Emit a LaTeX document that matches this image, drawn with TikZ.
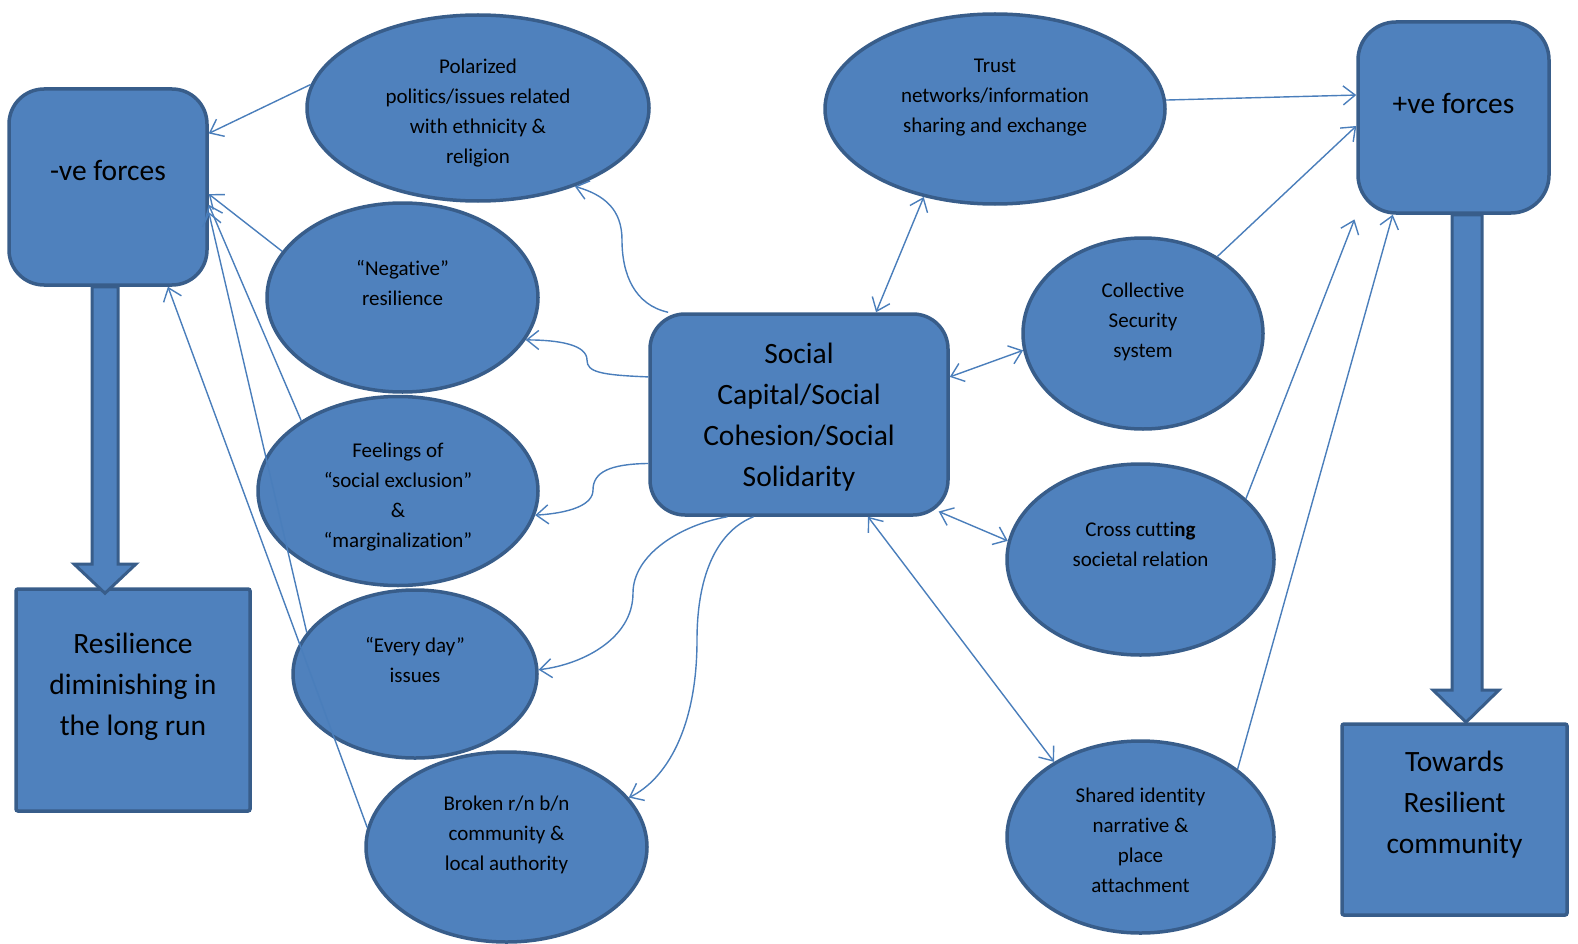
\documentclass[tikz,border=0pt]{standalone}
\usepackage{fontspec}
\setmainfont{Carlito}[Ligatures=NoCommon]
\usetikzlibrary{arrows.meta,calc,shapes.geometric}
\definecolor{shapefill}{HTML}{4F81BD}
\definecolor{shapeline}{HTML}{385D8A}
\definecolor{linkcol}{HTML}{4A7EBB}
\newcommand{\shapetext}[2]{\raisebox{#1}[\height][\depth]{\begin{tabular}{@{}c@{}}#2\end{tabular}}}

\begin{document}
\begin{tikzpicture}[x=1pt, y=-1pt,
		oval/.style={ellipse, draw=shapeline, fill=shapefill, line width=3.5pt, inner sep=0pt, font=\fontsize{21}{30}\selectfont},
		card/.style={rectangle, rounded corners=35pt, draw=shapeline, fill=shapefill, line width=3.5pt, inner sep=0pt, font=\fontsize{29.5}{41}\selectfont},
		sq/.style={card, rounded corners=2pt},
		link/.style={draw=linkcol, line width=1.4pt, -{Straight Barb[length=12pt,width=19pt]}},
		twoway/.style={link, {Straight Barb[length=12pt,width=19pt]}-{Straight Barb[length=12pt,width=19pt]}},
		blk/.style={draw=shapeline, fill=shapefill, line width=3pt, line join=miter}]
			%%%%% START %%%%%
			\useasboundingbox (0,0) rectangle (1578,944);
			
			\node[card, minimum width=198, minimum height=196] (neg) at (108,187) {\shapetext{14.5pt}{-ve forces}};
			\node[sq, minimum width=234, minimum height=222] (res) at (133,700) {\shapetext{14pt}{Resilience\\diminishing in\\the long run}};
			\node[card, minimum width=191, minimum height=191, rounded corners=38pt] (pos) at (1453.5,117.5) {\shapetext{12.5pt}{+ve forces}};
			\node[sq, minimum width=225, minimum height=191] (tow) at (1454.5,819.5) {\shapetext{15pt}{Towards\\Resilient\\community}};
			\node[card, minimum width=298, minimum height=201] (soc) at (799,414.5) {\shapetext{-2pt}{Social\\Capital/Social\\Cohesion/Social\\Solidarity}};
			
			\node[oval, minimum width=342, minimum height=186] (pol) at (478,108) {\shapetext{-4.5pt}{Polarized\\politics/issues related\\with ethnicity \&\\religion}};
			\node[oval, minimum width=271, minimum height=189] (negr) at (402.5,297.5) {\shapetext{13.5pt}{“Negative”\\resilience}};
			\node[oval, minimum width=280, minimum height=189] (feel) at (398,491) {\shapetext{-5.5pt}{Feelings of\\“social exclusion”\\\&\\“marginalization”}};
			\node[oval, minimum width=244, minimum height=168] (every) at (415,674) {\shapetext{13pt}{“Every day”\\issues}};
			\node[oval, minimum width=281, minimum height=190] (brok) at (506.5,847) {\shapetext{13pt}{Broken r/n b/n\\community \&\\local authority}};
			
			\node[oval, minimum width=340, minimum height=190] (trust) at (995,109) {\shapetext{12pt}{Trust\\networks/information\\sharing and exchange}};
			\node[oval, minimum width=240, minimum height=191] (coll) at (1143,333.5) {\shapetext{12.5pt}{Collective\\Security\\system}};
			\node[oval, minimum width=267, minimum height=191] (cross) at (1140.5,559.5) {\shapetext{14pt}{Cross cutti\textbf{ng}\\societal relation}};
			\node[oval, minimum width=267, minimum height=192] (shared) at (1140.5,837) {\shapetext{-4.5pt}{Shared identity\\narrative \&\\place\\attachment}};
			
			% block arrows
			\draw[blk] (neg.south -| 92,0) -- (92,564) -- (74,564) -- ($(res.north -| 105,0)+(0,6)$) -- (136,564) -- (118,564) -- (neg.south -| 118,0) -- cycle;
			\draw[blk] (pos.south -| 1452,0) -- (1452,690) -- (1433,690) -- (tow.north -| 1466,0) -- (1499,690) -- (1482,690) -- (pos.south -| 1482,0) -- cycle;
			
			% into -ve forces
			\draw[link] (pol.172) -- (neg.28);
			\draw[link] (negr.159) -- (neg.-4);
			\draw[link] (feel.144) -- (neg.-10);
			\draw[link] (every.159) -- (neg.-14);
			\draw[link] (brok.172) -- (neg.-59);
			
			% out of the social box, left
			\draw[link] (soc.142) .. controls (635,305) and (622,275) .. (622,240) .. controls (622,210) and (605,195) .. (pol.-39);
			\draw[link] (soc.166) .. controls (600,375) and (587,372) .. (587,360) .. controls (587,345) and (560,340) .. (negr.-19);
			\draw[link] (soc.-162) .. controls (610,464) and (593,472) .. (593,490) .. controls (593,505) and (570,513) .. (feel.-10);
			\draw[link] (soc.-125) .. controls (680,525) and (633,555) .. (633,593) .. controls (633,640) and (580,665) .. (every.2);
			\draw[link] (soc.-114) .. controls (720,530) and (697,570) .. (697,640) .. controls (697,730) and (665,780) .. (brok.22);
			
			% out of the social box, right
			\draw[twoway] (soc.53) -- (trust.-129);
			\draw[twoway] (soc.14) -- (coll.188);
			\draw[twoway, shorten <=-12pt] (soc.-34) -- (cross.172);
			\draw[twoway] (soc.-56) -- (shared.139);
			
			% into +ve forces
			\draw[link] (trust.3) -- (pos.167);
			\draw[link] (coll.46) -- (pos.185);
			\draw[link, shorten >=5pt] (cross.30) -- (pos.225);
			\draw[link] (shared.35) -- (pos.-122);
			%%%%% END %%%%%
\end{tikzpicture}
\end{document}
